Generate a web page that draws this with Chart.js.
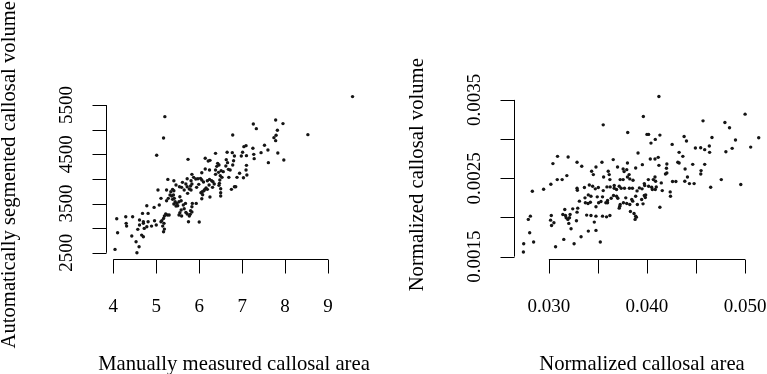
<!DOCTYPE html>
<html><head><meta charset="utf-8">
<script src="https://cdn.jsdelivr.net/npm/chart.js@4.4.1/dist/chart.umd.min.js"></script>
<style>
html,body{margin:0;padding:0;background:#fff;overflow:hidden}
#wrap{position:relative;width:767px;height:374px}
#wrap canvas{position:absolute;left:0;top:0}
</style></head><body>
<div id="wrap">
<canvas id="c1" width="767" height="374"></canvas>
<canvas id="c2" width="767" height="374"></canvas>
</div>
<script>
// ---- Left panel: manual area vs automatic volume ----
const leftArea = [9.57,5.20,5.17,5.01,5.74,6.78,7.26,7.33,7.78,7.95,7.82,7.79,7.74,7.78,8.53,7.83,7.97,7.61,7.52,7.60,7.44,7.27,7.28,7.25,7.04,7.09,7.01,7.10,7.10,6.98,7.09,7.11,7.03,6.94,6.88,6.82,6.85,6.75,6.78,6.80,6.82,6.77,6.72,6.69,6.65,6.63,6.66,6.62,6.68,6.56,6.51,6.45,6.41,6.46,6.43,6.38,6.38,6.38,6.49,6.53,6.48,6.47,6.46,6.50,6.50,6.50,6.25,6.21,6.14,6.14,6.24,6.06,6.03,6.06,6.10,6.19,6.24,6.29,6.32,6.35,6.31,6.23,6.16,6.19,6.13,6.11,6.07,6.04,6.08,6.06,6.25,5.97,5.99,5.94,5.87,5.92,5.83,5.81,5.83,5.80,5.77,5.81,5.72,5.72,5.69,5.73,5.65,5.61,5.59,5.54,5.46,5.41,5.41,5.38,5.27,5.24,5.32,5.36,5.38,5.42,5.44,5.48,5.41,5.46,5.50,5.53,5.55,5.58,5.63,5.68,5.65,5.58,5.53,5.59,5.55,5.69,5.72,5.80,5.79,5.77,5.83,5.83,5.93,5.84,5.75,6.00,5.40,5.34,5.28,5.24,5.22,5.26,5.30,5.19,5.17,5.13,5.18,5.15,5.17,5.19,5.11,5.11,5.07,5.04,4.95,4.78,5.00,4.96,4.81,4.81,4.78,4.68,4.70,4.61,4.70,4.72,4.66,4.70,4.60,4.53,4.55,4.43,4.45,4.29,4.30,4.31,4.08,4.10,4.04,4.57,4.61,4.89];
const leftVolume = [5673,5266,4832,4480,4398,4893,5117,5022,5198,5124,4988,4887,4839,4778,4900,4527,4385,4331,4683,4588,4534,4500,4412,4622,4656,4676,4541,4473,4276,4466,4181,4080,4025,4114,4032,3842,3842,3788,4283,4371,4466,4534,4181,4032,4541,4392,4331,4263,4195,4148,4168,4134,4256,4283,4317,4520,4181,4093,4066,4032,3978,3910,3870,3802,3720,3653,4378,4365,4419,4202,4181,4127,4012,3978,3937,3964,3991,3964,3944,3896,3829,3876,3815,3788,3788,3761,3741,3720,3680,3598,3632,4005,3890,3829,4032,3998,4093,3964,3897,3856,3795,3775,4005,3842,3897,3707,3775,3931,3829,3842,3876,3964,3761,3788,3991,3775,3673,3653,3585,3605,3537,3503,3490,3449,3456,3537,3639,3558,3470,3503,3395,3368,3266,3246,3314,3320,3287,3354,3280,3246,3327,3436,3503,3503,3131,3124,3673,3741,3605,3558,3287,3266,3266,3246,3198,3151,3097,3042,2927,2981,3131,3605,3470,3775,3422,3456,3063,3151,3131,3300,3029,3300,3131,3164,3097,2995,2859,2825,2622,2724,2500,2839,3232,3232,3097,3042,3192,2907,2568,2975,3063,3042];
const leftXTicks = [4,5,6,7,8,9];
const leftXLabels = ['4','5','6','7','8','9'];
const leftYTicks = [2500,3000,3500,4000,4500,5000,5500];
const leftYLabelValues = [2500,3500,4500,5500];
const leftYLabels = ['2500','3500','4500','5500'];

// ---- Right panel: normalized area vs normalized volume ----
const rightArea = [0.04122,0.03963,0.03554,0.03804,0.04000,0.04017,0.04132,0.04085,0.04041,0.04572,0.04795,0.04842,0.05001,0.05140,0.05058,0.04903,0.04869,0.04805,0.04663,0.04636,0.04639,0.04589,0.04548,0.04494,0.04403,0.04379,0.04257,0.04328,0.04366,0.04315,0.04467,0.04589,0.04552,0.04549,0.04389,0.04413,0.04386,0.04433,0.04481,0.04295,0.04650,0.04758,0.04957,0.04203,0.04199,0.04203,0.04122,0.04115,0.04082,0.04034,0.03909,0.03953,0.03885,0.03801,0.03794,0.03757,0.03767,0.03818,0.03825,0.03858,0.03801,0.03757,0.03700,0.03656,0.03727,0.03717,0.03666,0.03622,0.03605,0.03615,0.03558,0.03541,0.03480,0.03453,0.03436,0.03335,0.03287,0.03196,0.03088,0.03041,0.03183,0.03135,0.03085,0.03020,0.02946,0.02831,0.03287,0.03290,0.03362,0.03412,0.03446,0.03473,0.03504,0.03554,0.03592,0.03625,0.03666,0.03690,0.03737,0.03771,0.03821,0.03852,0.03899,0.03923,0.03950,0.03977,0.04017,0.04048,0.04055,0.04085,0.04095,0.04146,0.04156,0.04237,0.04240,0.04065,0.04088,0.04014,0.03973,0.03973,0.03983,0.03987,0.03946,0.03960,0.03902,0.03885,0.03855,0.03845,0.03825,0.03831,0.03868,0.03885,0.03879,0.03892,0.03794,0.03784,0.03760,0.03727,0.03717,0.03723,0.03703,0.03690,0.03659,0.03635,0.03598,0.03581,0.03598,0.03547,0.03531,0.03493,0.03507,0.03480,0.03423,0.03399,0.03429,0.03402,0.03368,0.03372,0.03311,0.03294,0.03243,0.03216,0.03162,0.03142,0.03176,0.03193,0.03210,0.03169,0.03203,0.03226,0.03281,0.03287,0.03385,0.03429,0.03480,0.03547,0.03588,0.03622,0.03463,0.03402,0.03480,0.03524,0.03328,0.03257,0.03152,0.03068,0.03024,0.03017,0.03027,0.03051,0.02811,0.02790,0.02804,0.02844,0.02743,0.02740,0.04132,0.04082,0.04189,0.04261,0.04328];
const rightVolume = [0.003543,0.003288,0.003182,0.003085,0.003060,0.003060,0.003051,0.002996,0.002949,0.003233,0.003212,0.003144,0.003318,0.003017,0.002898,0.002988,0.002882,0.002839,0.003021,0.002911,0.002831,0.002865,0.002890,0.002886,0.002975,0.003034,0.002932,0.002831,0.002780,0.002704,0.002678,0.002678,0.002598,0.002555,0.002619,0.002517,0.002462,0.002432,0.002432,0.002458,0.002386,0.002483,0.002420,0.002682,0.002627,0.002568,0.002665,0.002767,0.002746,0.002746,0.002822,0.002674,0.002632,0.002695,0.002610,0.002619,0.002585,0.002547,0.002492,0.002475,0.002517,0.002483,0.002644,0.002738,0.002483,0.002398,0.002407,0.002483,0.002589,0.002547,0.002517,0.002704,0.002644,0.002547,0.002589,0.002653,0.002704,0.002771,0.002780,0.002687,0.002534,0.002483,0.002483,0.002424,0.002360,0.002335,0.002373,0.002348,0.002382,0.002415,0.002398,0.002365,0.002382,0.002343,0.002390,0.002390,0.002373,0.002356,0.002373,0.002373,0.002373,0.002373,0.002339,0.002377,0.002365,0.002407,0.002398,0.002386,0.002356,0.002356,0.002390,0.002441,0.002343,0.002326,0.002271,0.002483,0.002462,0.002483,0.002432,0.002280,0.002254,0.002288,0.002229,0.002174,0.002165,0.002271,0.002208,0.002229,0.002165,0.002076,0.002051,0.002017,0.001975,0.002004,0.002178,0.002250,0.002187,0.002165,0.002119,0.002144,0.002246,0.002271,0.002280,0.002246,0.002216,0.002187,0.002187,0.002263,0.002204,0.002263,0.002187,0.002136,0.002195,0.002178,0.002271,0.002288,0.002250,0.002187,0.002208,0.002119,0.002110,0.002038,0.002102,0.002038,0.001996,0.001975,0.001996,0.002025,0.001924,0.001856,0.001958,0.002068,0.002030,0.002026,0.002017,0.002017,0.002008,0.002026,0.001941,0.001826,0.001835,0.001686,0.001754,0.001665,0.001720,0.001627,0.002026,0.001966,0.001898,0.001932,0.002017,0.001975,0.001805,0.001686,0.001665,0.001559,0.002131,0.002517,0.002555,0.002458,0.002695];
const rightXTicks = [0.030,0.035,0.040,0.045,0.050];
const rightXLabelValues = [0.030,0.040,0.050];
const rightXLabels = ['0.030','0.040','0.050'];
const rightYTicks = [0.0015,0.0020,0.0025,0.0030,0.0035];
const rightYLabelValues = [0.0015,0.0025,0.0035];
const rightYLabels = ['0.0015','0.0025','0.0035'];

const FONT = '"Liberation Serif", "Times New Roman", serif';

const rAxes = {
  id: 'rAxes',
  afterDraw(chart, args, o) {
    const ctx = chart.ctx, xs = chart.scales.x, ys = chart.scales.y, a = chart.chartArea;
    const snap = v => Math.round(v) + 0.5;
    ctx.save();
    ctx.strokeStyle = '#000';
    ctx.lineWidth = 1;
    ctx.beginPath();
    const yb = snap(a.bottom);
    ctx.moveTo(xs.getPixelForValue(o.xTicks[0]), yb);
    ctx.lineTo(xs.getPixelForValue(o.xTicks[o.xTicks.length - 1]), yb);
    o.xTicks.forEach(v => { const p = snap(xs.getPixelForValue(v)); ctx.moveTo(p, yb); ctx.lineTo(p, yb + 14); });
    const xl = snap(a.left);
    ctx.moveTo(xl, ys.getPixelForValue(o.yTicks[0]));
    ctx.lineTo(xl, ys.getPixelForValue(o.yTicks[o.yTicks.length - 1]));
    o.yTicks.forEach(v => { const p = snap(ys.getPixelForValue(v)); ctx.moveTo(xl, p); ctx.lineTo(xl - 14, p); });
    ctx.stroke();

    ctx.fillStyle = '#000';
    ctx.textAlign = 'center';
    ctx.textBaseline = 'alphabetic';
    ctx.font = '19px ' + FONT;
    o.xLabelValues.forEach((v, i) => ctx.fillText(o.xLabels[i], xs.getPixelForValue(v), a.bottom + 53));
    o.yLabelValues.forEach((v, i) => {
      ctx.save();
      ctx.translate(a.left - 34, ys.getPixelForValue(v));
      ctx.rotate(-Math.PI / 2);
      ctx.fillText(o.yLabels[i], 0, 0);
      ctx.restore();
    });
    ctx.font = '20.7px ' + FONT;
    ctx.fillText(o.xTitle, o.xTitleCenter, a.bottom + 111);
    ctx.save();
    ctx.translate(a.left - 91, (a.top + a.bottom) / 2);
    ctx.rotate(-Math.PI / 2);
    ctx.fillText(o.yTitle, 0, 0);
    ctx.restore();
    ctx.restore();
  }
};

function makeChart(id, xs, ys, xr, yr, pad, axOpts) {
  const pts = xs.map((x, i) => ({ x: x, y: ys[i] }));
  return new Chart(document.getElementById(id), {
    type: 'scatter',
    data: { datasets: [{ data: pts, pointRadius: 1.7, pointHoverRadius: 1.7,
      backgroundColor: '#151515', borderWidth: 0, pointBorderWidth: 0 }] },
    options: {
      responsive: false, animation: false, events: [],
      devicePixelRatio: 1,
      layout: { padding: pad },
      plugins: { legend: { display: false }, tooltip: { enabled: false }, rAxes: axOpts },
      scales: {
        x: { type: 'linear', display: false, min: xr[0], max: xr[1] },
        y: { type: 'linear', display: false, min: yr[0], max: yr[1] }
      }
    },
    plugins: [rAxes]
  });
}

makeChart('c1', leftArea, leftVolume, [3.83, 9.79], [2373, 5797],
  { left: 106, right: 405, top: 90.5, bottom: 115 },
  { xTicks: leftXTicks, yTicks: leftYTicks, xLabelValues: leftXTicks, xLabels: leftXLabels,
    yLabelValues: leftYLabelValues, yLabels: leftYLabels,
    xTitle: 'Manually measured callosal area', xTitleCenter: 234,
    yTitle: 'Automatically segmented callosal volume' });

makeChart('c2', rightArea, rightVolume, [0.02644, 0.05207], [0.00147, 0.00362],
  { left: 514, right: 0, top: 90.5, bottom: 115 },
  { xTicks: rightXTicks, yTicks: rightYTicks, xLabelValues: rightXLabelValues, xLabels: rightXLabels,
    yLabelValues: rightYLabelValues, yLabels: rightYLabels,
    xTitle: 'Normalized callosal area', xTitleCenter: 642,
    yTitle: 'Normalized callosal volume' });
</script>
</body></html>
